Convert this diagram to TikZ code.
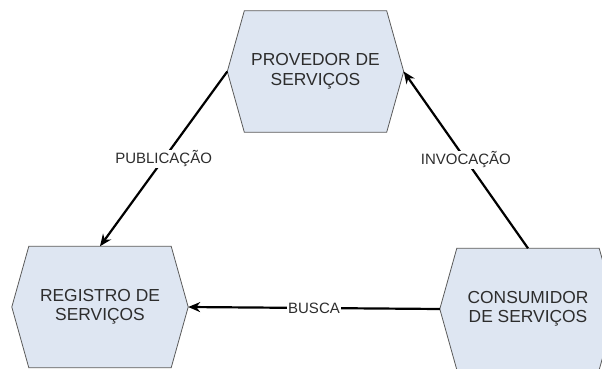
\documentclass[tikz,border=0pt]{standalone}
\usepackage{fontspec}
\setmainfont{Liberation Sans}
\usetikzlibrary{arrows.meta,backgrounds}
\definecolor{azulclaro}{RGB}{222,230,242}
\definecolor{borda}{RGB}{90,90,90}
\definecolor{texto}{RGB}{45,45,45}
\begin{document}
\begin{tikzpicture}[x=1pt, y=-1pt]

	\tikzstyle{servico}=[rectangle, minimum width=176pt, minimum height=121pt, inner sep=0pt, align=center, text=texto, font=\fontsize{17.4}{19.5}\selectfont]
	\tikzstyle{hexa}=[draw=borda, fill=azulclaro, line width=0.8pt]
	\tikzstyle{seta}=[-{Stealth[length=12pt, width=10pt]}, line width=2.2pt]
	\tikzstyle{rotulo}=[fill=white, inner sep=1pt, text=texto, font=\fontsize{15}{17}\selectfont]

	\useasboundingbox (0, 0) rectangle (602, 369);

	\coordinate (prov) at (315.5, 71.5); % PROVEDOR
	\coordinate (reg) at (100, 307); % REGISTRO
	\coordinate (cons) at (528, 309); % CONSUMIDOR

	\node[servico] (prov) at (prov) {PROVEDOR DE\\SERVIÇOS}; % PROVEDOR
	\node[servico] (reg) at (reg) {REGISTRO DE\\SERVIÇOS}; % REGISTRO
	\node[servico] (cons) at (cons) {CONSUMIDOR\\DE SERVIÇOS}; % CONSUMIDOR

	%%%%%%%% HEXAGONOS %%%%%%%%
	\begin{scope}[on background layer]
		\foreach \n in {prov, reg, cons}
			\draw[hexa] (\n.west) -- ([xshift=17pt]\n.north west) -- ([xshift=-17pt]\n.north east) -- (\n.east) -- ([xshift=-17pt]\n.south east) -- ([xshift=17pt]\n.south west) -- cycle;
	\end{scope}

	%%%%%%%% CONEXOES %%%%%%%%
	\draw[seta] (prov.west) -- node[midway, rotulo] (publ) {PUBLICAÇÃO} (reg.north);
	\draw[seta] (cons.north) -- node[midway, rotulo] (invoc) {INVOCAÇÃO} (prov.east);
	\draw[seta] (cons.west) -- node[midway, rotulo] (busca) {BUSCA} (reg.east);
\end{tikzpicture}
\end{document}
